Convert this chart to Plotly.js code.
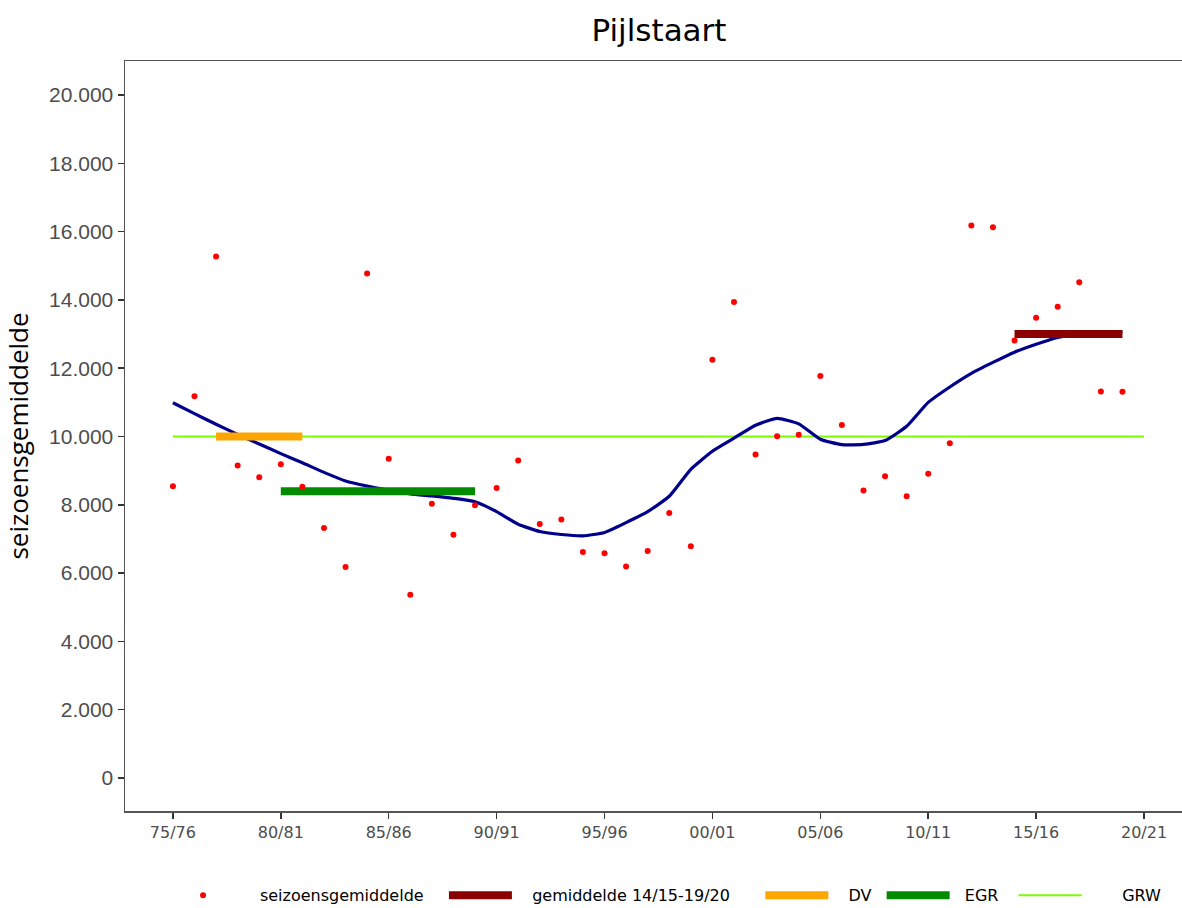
<!DOCTYPE html>
<html>
<head>
<meta charset="utf-8">
<script src="https://cdn.plot.ly/plotly-3.0.1.min.js"></script>
<style>html,body{margin:0;padding:0;background:#fff;}#chart{width:1182px;height:908px;}</style>
</head>
<body>
<div id="chart"></div>
<script>
// Seasons 75/76 .. 19/20 (index 0..44)
const seasons = ["75/76","76/77","77/78","78/79","79/80","80/81","81/82","82/83","83/84","84/85",
  "85/86","86/87","87/88","88/89","89/90","90/91","91/92","92/93","93/94","94/95",
  "95/96","96/97","97/98","98/99","99/00","00/01","01/02","02/03","03/04","04/05",
  "05/06","06/07","07/08","08/09","09/10","10/11","11/12","12/13","13/14","14/15",
  "15/16","16/17","17/18","18/19","19/20"];
const seasonIndex = seasons.map((s, i) => i);

const seizoensgemiddelde = [8540,11180,15270,9150,8810,9190,8530,7320,6180,14770,
  9350,5370,8030,7120,7990,8490,9300,7440,7570,6620,
  6580,6190,6650,7760,6790,12250,13940,9470,10010,10050,
  11770,10340,8420,8840,8250,8910,9800,16180,16130,12810,
  13480,13800,14520,11320,11310];

const trend = [10990,10670,10360,10060,9780,9500,9230,8950,8700,8550,
  8430,8320,8260,8190,8090,7800,7430,7220,7130,7090,
  7190,7480,7800,8250,9040,9570,9950,10330,10530,10370,
  9920,9760,9770,9880,10300,11000,11450,11850,12170,12470,
  12700,12900,12990,13030,13060];

const gemiddeldeSeasons = ["14/15","19/20"]; const gemiddeldeValue = 13000;
const dvSeasons = ["77/78","81/82"]; const dvValue = 10000;
const egrSeasons = ["80/81","89/90"]; const egrValue = 8400;
const grwSeasons = ["75/76","20/21"]; const grwValue = 10000;

const tickLabels = ["75/76","80/81","85/86","90/91","95/96","00/01","05/06","10/11","15/16","20/21"];
const yTicks = [0,2000,4000,6000,8000,10000,12000,14000,16000,18000,20000];

const allLabels = seasons.concat(["20/21"]);
const pos = s => allLabels.indexOf(s);
const tickVals = tickLabels.map(pos);

// legend label padding (non-breaking spaces) to mimic the reference spacing
const pad = n => '\u00A0'.repeat(n);

const traces = [
  {x: grwSeasons.map(pos), y: [grwValue, grwValue], mode: 'lines', name: pad(7) + 'GRW',
   line: {color: '#7CFC00', width: 2}, legendrank: 5},
  {x: seasonIndex, y: trend, mode: 'lines', name: 'trend', showlegend: false,
   line: {color: '#00008B', width: 3.2, shape: 'spline', smoothing: 0.5}},
  {x: dvSeasons.map(pos), y: [dvValue, dvValue], mode: 'lines', name: pad(3) + 'DV' + pad(1),
   line: {color: '#FFA500', width: 8}, legendrank: 3},
  {x: egrSeasons.map(pos), y: [egrValue, egrValue], mode: 'lines', name: pad(2) + 'EGR' + pad(2),
   line: {color: '#008B00', width: 8}, legendrank: 4},
  {x: gemiddeldeSeasons.map(pos), y: [gemiddeldeValue, gemiddeldeValue], mode: 'lines',
   name: pad(3) + 'gemiddelde 14/15-19/20' + pad(5), line: {color: '#8B0000', width: 8}, legendrank: 2},
  {x: seasonIndex, y: seizoensgemiddelde, mode: 'markers', name: pad(4) + 'seizoensgemiddelde' + pad(3),
   marker: {color: '#FF0000', size: 6}, legendrank: 1}
];

const layout = {
  width: 1182, height: 908,
  margin: {l: 125, r: 0, t: 61, b: 97, autoexpand: false},
  paper_bgcolor: '#fff', plot_bgcolor: '#fff',
  separators: ',.',
  showlegend: true,
  title: {text: 'Pijlstaart', x: 659/1182, xref: 'container', xanchor: 'center',
          y: 1 - 30/908, yref: 'container', yanchor: 'middle',
          font: {family: 'DejaVu Sans', size: 31, color: '#000'}},
  xaxis: {range: [-2.22, 46.76], tickmode: 'array', tickvals: tickVals, ticktext: tickLabels,
          automargin: false, tickangle: 0,
          showgrid: false, zeroline: false, showline: true, mirror: true,
          linecolor: '#555', linewidth: 1.5, ticks: 'outside', ticklen: 6, tickwidth: 1.5,
          tickcolor: '#333', tickfont: {family: 'DejaVu Sans', size: 16, color: '#4D4D4D'}},
  yaxis: {range: [-966, 20996], tickmode: 'array', tickvals: yTicks, tickformat: ',d',
          automargin: false,
          showgrid: false, zeroline: false, showline: true, linecolor: '#555', linewidth: 1.5,
          ticks: 'outside', ticklen: 6, tickwidth: 1.5, tickcolor: '#333',
          tickfont: {family: 'Liberation Sans', size: 21, color: '#4D4D4D'},
          title: {text: 'seizoensgemiddelde', standoff: 20,
                  font: {family: 'Open Sans', size: 26, color: '#000'}}},
  legend: {orientation: 'h', x: 0.0393, xref: 'paper', xanchor: 'left',
           y: -0.0897, yanchor: 'top', itemwidth: 63,
           font: {family: 'DejaVu Sans', size: 16, color: '#000'}, bgcolor: 'rgba(0,0,0,0)'}
};

Plotly.newPlot('chart', traces, layout, {displayModeBar: false, staticPlot: true});
</script>
</body>
</html>
